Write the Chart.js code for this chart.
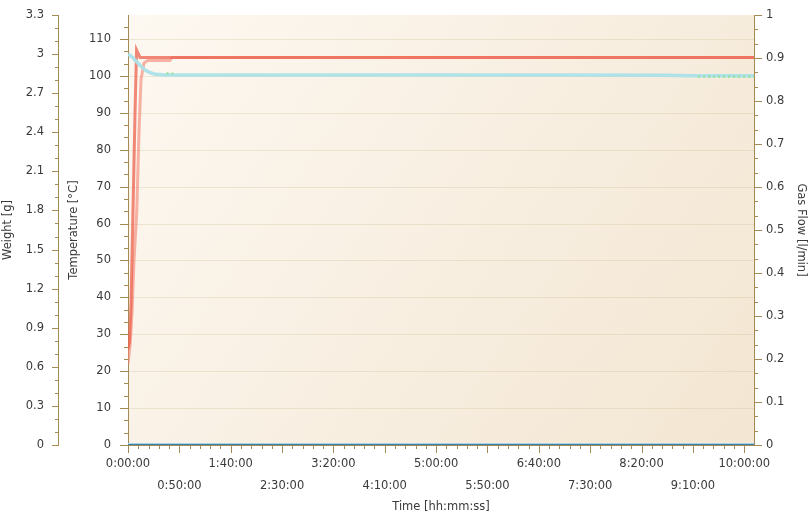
<!DOCTYPE html>
<html>
<head>
<meta charset="utf-8">
<script src="https://cdn.jsdelivr.net/npm/chart.js@4.4.0/dist/chart.umd.min.js"></script>
<style>
  html, body { margin: 0; padding: 0; background: #fff; }
  canvas { display: block; }
</style>
</head>
<body>
<canvas id="dryChart" width="812" height="524"></canvas>
<script>
// time is in seconds from start of run
let ovenTime = [0, 90, 175, 290, 410, 500, 700, 36570];
let ovenTemp = [26, 28, 38, 63, 90, 107, 105, 105];

let sampleTime = [0, 120, 235, 350, 510, 645, 760, 935, 1170, 2450, 2570, 36570];
let sampleTemp = [22, 27, 36, 50, 63, 85, 99, 103.5, 104.2, 104.2, 105, 105];

let weightTime = [0, 200, 410, 700, 1000, 1300, 1600, 2000, 2450, 10000, 20000, 31500, 33000, 36570];
let weightVal = [3.0, 2.982, 2.955, 2.915, 2.878, 2.857, 2.846, 2.841, 2.839, 2.839, 2.839, 2.838, 2.834, 2.833];

let dryTime = [2250, 2650, 2660, 33300, 36570];
let dryVal = [2.853, 2.850, null, 2.826, 2.826];

let gasTime = [0, 36570];
let gasFlow = [0, 0];
let gasSet = [0, 0];

let xTickLabels = ['0:00:00', '0:50:00', '1:40:00', '2:30:00', '3:20:00', '4:10:00', '5:00:00',
                   '5:50:00', '6:40:00', '7:30:00', '8:20:00', '9:10:00', '10:00:00'];
let weightTickLabels = ['0', '0.3', '0.6', '0.9', '1.2', '1.5', '1.8', '2.1', '2.4', '2.7', '3', '3.3'];
let tempTickLabels = ['0', '10', '20', '30', '40', '50', '60', '70', '80', '90', '100', '110'];
let gasTickLabels = ['0', '0.1', '0.2', '0.3', '0.4', '0.5', '0.6', '0.7', '0.8', '0.9', '1'];

const textColor = '#3a3a3a';
const axisColor = '#a48a55';
const fontFamily = 'DejaVu Sans';

function pts(xs, ys) {
  return xs.map((x, i) => ({ x: x, y: ys[i] }));
}

// tick lists: minor steps, every "every"-th one is a labelled major tick
function makeTicks(max, step, every) {
  let out = [];
  for (let i = 0; i * step <= max + 1e-9; i++) {
    out.push({ value: i * step, big: i % every === 0, idx: i / every });
  }
  return out;
}

function yAxis(id, pos, max, step, labels, title, titlePad, labelPad, width, weight) {
  return {
    type: 'linear',
    position: pos,
    min: 0,
    max: max,
    weight: weight,
    grid: { display: false, drawTicks: false },
    border: { display: true, color: axisColor, width: 1 },
    afterBuildTicks: (s) => { s.ticks = makeTicks(max, step, 3); },
    afterFit: (s) => {
      s.width = width;
      s.paddingTop = 0;
      s.paddingBottom = 0;
    },
    ticks: {
      autoSkip: false,
      padding: labelPad,
      color: textColor,
      font: { family: fontFamily, size: 11.5 },
      callback: (v, i, t) => t[i].big ? labels[t[i].idx] : ''
    },
    title: {
      display: true,
      text: title,
      color: textColor,
      font: { family: fontFamily, size: 11.5 },
      padding: { top: titlePad, bottom: 0 }
    }
  };
}

function drawTicks(ctx, scale, bigLen, smallLen) {
  const pos = scale.options.position;
  ctx.beginPath();
  scale.ticks.forEach(t => {
    const len = t.big ? bigLen : smallLen;
    const p = Math.round(scale.getPixelForValue(t.value)) + 0.5;
    if (pos === 'left') {
      ctx.moveTo(scale.right, p); ctx.lineTo(scale.right - len, p);
    } else if (pos === 'right') {
      ctx.moveTo(scale.left, p); ctx.lineTo(scale.left + len, p);
    } else {
      ctx.moveTo(p, scale.top); ctx.lineTo(p, scale.top + len);
    }
  });
  ctx.stroke();
}

const framePlugin = {
  id: 'frame',
  beforeDraw(chart) {
    const { ctx, chartArea: a } = chart;
    ctx.save();
    const g = ctx.createLinearGradient(a.left, a.top, a.right, a.bottom);
    g.addColorStop(0, '#fdf8f1');
    g.addColorStop(1, '#f3e6d2');
    ctx.fillStyle = g;
    ctx.fillRect(a.left, a.top, a.right - a.left, a.bottom - a.top);
    // horizontal grid on the temperature majors
    const t = chart.scales.temp;
    ctx.strokeStyle = 'rgba(205, 188, 150, 0.3)';
    ctx.lineWidth = 1;
    ctx.beginPath();
    t.ticks.forEach(tk => {
      if (!tk.big || tk.value === 0) return;
      const y = Math.round(t.getPixelForValue(tk.value)) + 0.5;
      ctx.moveTo(a.left, y);
      ctx.lineTo(a.right, y);
    });
    ctx.stroke();
    ctx.restore();
  },
  afterDraw(chart) {
    const ctx = chart.ctx;
    ctx.save();
    ctx.strokeStyle = axisColor;
    ctx.lineWidth = 1;
    drawTicks(ctx, chart.scales.weight, 6, 3);
    drawTicks(ctx, chart.scales.temp, 8, 4);
    drawTicks(ctx, chart.scales.gas, 8, 4);
    drawTicks(ctx, chart.scales.x, 8, 4);
    ctx.restore();
  }
};

let ctx = document.getElementById('dryChart').getContext('2d');
let dryChart = new Chart(ctx, {
  type: 'line',
  data: {
    datasets: [
      {
        label: 'Weight',
        data: pts(weightTime, weightVal),
        yAxisID: 'weight',
        borderColor: 'rgba(170, 226, 232, 0.95)',
        borderWidth: 3.5,
        tension: 0.3,
        order: 1
      },
      {
        label: 'Weight (dry)',
        data: pts(dryTime, dryVal),
        yAxisID: 'weight',
        borderColor: 'rgba(140, 225, 140, 0.9)',
        borderWidth: 2,
        borderDash: [2, 3],
        spanGaps: false,
        order: 0
      },
      {
        label: 'Oven Temperature',
        data: pts(ovenTime, ovenTemp),
        yAxisID: 'temp',
        borderColor: 'rgba(236, 98, 78, 0.75)',
        borderWidth: 3,
        order: 2
      },
      {
        label: 'Sample Temperature',
        data: pts(sampleTime, sampleTemp),
        yAxisID: 'temp',
        borderColor: 'rgba(244, 130, 112, 0.6)',
        borderWidth: 3,
        order: 3
      },
      {
        label: 'Gas Flow',
        data: pts(gasTime, gasFlow),
        yAxisID: 'gas',
        borderColor: '#3c7eaa',
        borderWidth: 2,
        order: 4
      },
      {
        label: 'Gas Flow Setpoint',
        data: pts(gasTime, gasSet),
        yAxisID: 'gas',
        borderColor: '#a9d5e6',
        borderWidth: 4,
        clip: 0,
        order: 5
      }
    ]
  },
  options: {
    responsive: false,
    animation: false,
    devicePixelRatio: 1,
    layout: { padding: { top: 15, left: 0, right: 0, bottom: 0 } },
    elements: { point: { radius: 0 } },
    plugins: {
      legend: { display: false },
      tooltip: { enabled: false }
    },
    scales: {
      x: {
        type: 'linear',
        position: 'bottom',
        min: 0,
        max: 36570,
        grid: { display: false, drawTicks: false },
        border: { display: true, color: axisColor, width: 1 },
        afterBuildTicks: (s) => { s.ticks = makeTicks(36000, 600, 5); },
        afterFit: (s) => {
          s.height = 79;
          s.paddingLeft = 0;
          s.paddingRight = 0;
        },
        ticks: {
          autoSkip: false,
          maxRotation: 0,
          padding: 8,
          color: textColor,
          font: { family: fontFamily, size: 11.5, lineHeight: '22px' },
          callback: (v, i, t) => {
            if (!t[i].big) return '';
            const lab = xTickLabels[t[i].idx];
            return t[i].idx % 2 === 0 ? [lab, ''] : ['', lab];
          }
        },
        title: {
          display: true,
          text: 'Time [hh:mm:ss]',
          color: textColor,
          font: { family: fontFamily, size: 11.5 },
          padding: { top: 0, bottom: 10 }
        }
      },
      weight: yAxis('weight', 'left', 3.3, 0.1, weightTickLabels, 'Weight [g]', 1, 14, 58, 2),
      temp: yAxis('temp', 'left', 116.5, 10 / 3, tempTickLabels, 'Temperature [°C]', 9, 17, 70, 1),
      gas: yAxis('gas', 'right', 1, 1 / 30, gasTickLabels, 'Gas Flow [l/min]', 4, 12, 58, 1)
    }
  },
  plugins: [framePlugin]
});
</script>
</body>
</html>
